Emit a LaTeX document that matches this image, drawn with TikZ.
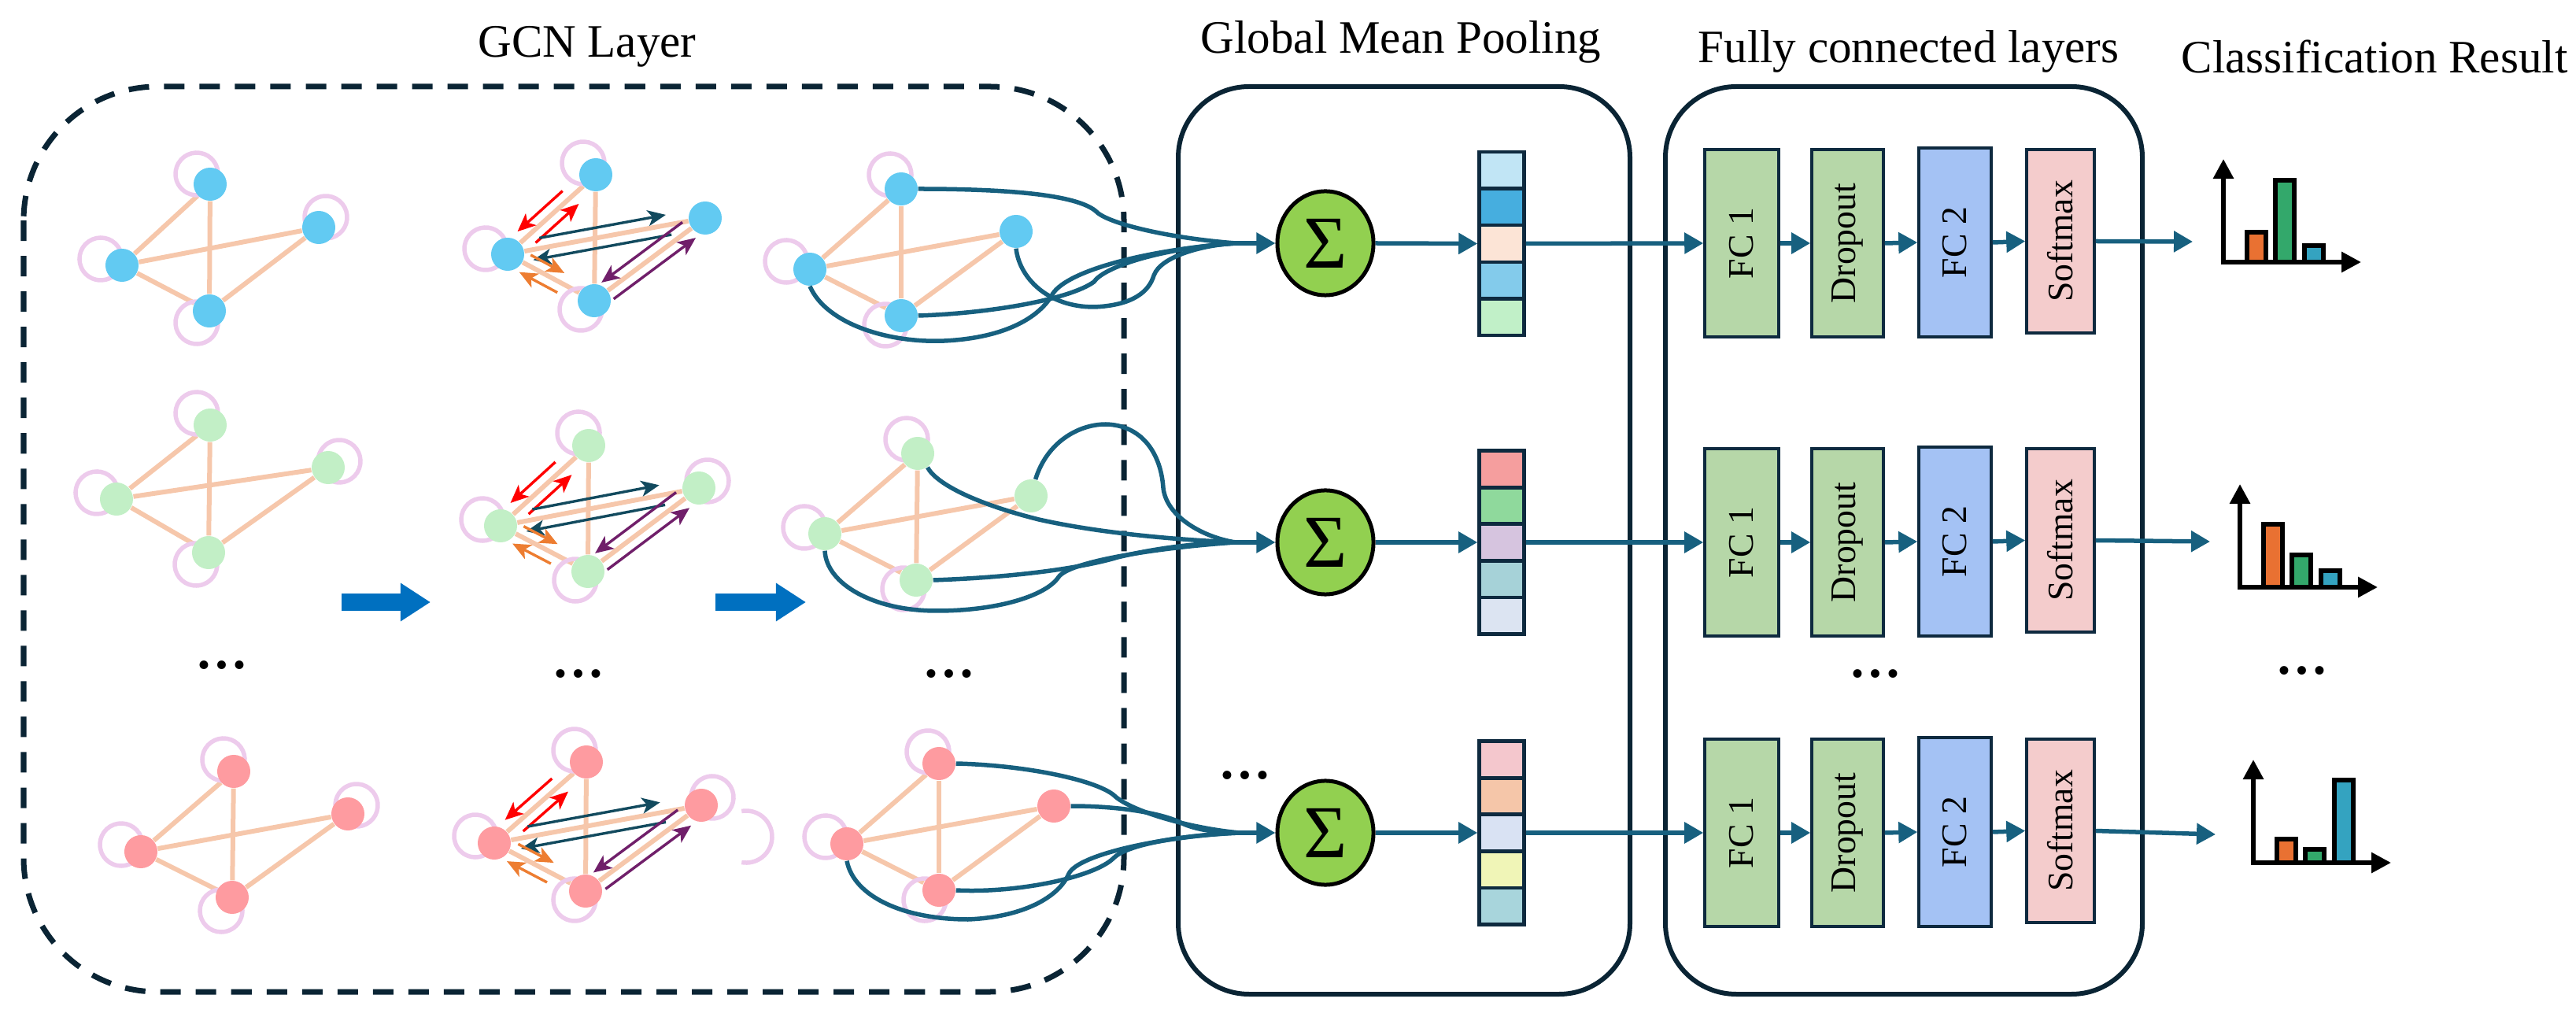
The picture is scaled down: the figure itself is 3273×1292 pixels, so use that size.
\documentclass[tikz,border=0pt]{standalone}
\usepackage{fontspec}
\setmainfont{Liberation Serif}
\usetikzlibrary{arrows.meta,calc,shapes.geometric}
\pgfdeclarelayer{bg}
\pgfsetlayers{bg,main}
\definecolor{nblue}{HTML}{62CAF2}
\definecolor{ngreen}{HTML}{C2EFC6}
\definecolor{npink}{HTML}{FE9BA0}
\definecolor{edgec}{HTML}{F6C7AB}
\definecolor{loopc}{HTML}{EDCBEC}
\definecolor{boxc}{HTML}{0A2434}
\definecolor{connc}{HTML}{17607F}
\definecolor{cellc}{HTML}{0E2A3F}
\definecolor{sumc}{HTML}{92D050}
\definecolor{mred}{HTML}{FF0000}
\definecolor{mteal}{HTML}{124A5E}
\definecolor{morange}{HTML}{ED7D31}
\definecolor{mpurple}{HTML}{701F6A}
\definecolor{bigblue}{HTML}{0070C0}
\definecolor{fcgreen}{HTML}{B6D7A8}
\definecolor{fcblue}{HTML}{A4C2F4}
\definecolor{fcpink}{HTML}{F4CCCC}
\definecolor{barorange}{HTML}{E97132}
\definecolor{bargreen}{HTML}{33A86B}
\definecolor{barblue}{HTML}{34A3C0}
\definecolor{va1}{HTML}{C1E5F5}\definecolor{va2}{HTML}{46AEDF}\definecolor{va3}{HTML}{FCE4D6}\definecolor{va4}{HTML}{83CBEB}\definecolor{va5}{HTML}{C1F0C8}
\definecolor{vb1}{HTML}{F59E9E}\definecolor{vb2}{HTML}{8FD99C}\definecolor{vb3}{HTML}{D6C4DF}\definecolor{vb4}{HTML}{A6D2D8}\definecolor{vb5}{HTML}{DCE4F2}
\definecolor{vc1}{HTML}{F4C7CD}\definecolor{vc2}{HTML}{F5C6A9}\definecolor{vc3}{HTML}{D9E2F3}\definecolor{vc4}{HTML}{F0F5B7}\definecolor{vc5}{HTML}{A8D5DC}
\tikzset{
  gnode/.style={circle,minimum size=0.42cm,inner sep=0pt,draw=none},
  gedge/.style={draw=edgec,line width=0.06cm},
  loopst/.style={draw=loopc,line width=0.055cm},
  msgst/.style={line width=0.034cm,-{Stealth[length=0.23cm,width=0.2cm,inset=0.06cm]}},
  conn/.style={draw=connc,line width=0.055cm},
  conntip/.style={conn,-{Triangle[length=0.24cm,width=0.26cm]}},
  sumnode/.style={ellipse,draw=black,line width=0.05cm,fill=sumc,minimum width=1.22cm,minimum height=1.32cm,inner sep=0pt,font=\fontsize{27}{30}\selectfont},
  cell/.style={rectangle,draw=cellc,line width=0.045cm,minimum width=0.57cm,minimum height=0.466cm,inner sep=0pt},
  fcbox/.style={rectangle,draw=cellc,line width=0.035cm,minimum width=0.92cm,minimum height=2.38cm,inner sep=0pt,font=\fontsize{13}{15}\selectfont},
  title/.style={font=\fontsize{16.8}{20}\selectfont,anchor=base,inner sep=0pt},
  dots/.style={font=\fontsize{19}{20}\selectfont\bfseries,inner sep=0pt},
  axisst/.style={draw=black,line width=0.06cm,-{Triangle[length=0.25cm,width=0.25cm]}},
  barst/.style={draw=black,line width=0.06cm},
  bigarrow/.style={draw=bigblue,line width=0.22cm,-{Triangle[length=0.38cm,width=0.46cm]}},
  bigbox/.style={draw=boxc,line width=0.06cm,rounded corners=0.9cm},
}
\newcommand{\gedges}[1]{%
  \draw[gedge] (#1T) -- (#1L);
  \draw[gedge] (#1T) -- (#1B);
  \draw[gedge] (#1L) -- (#1R);
  \draw[gedge] (#1L) -- (#1B);
  \draw[gedge] (#1R) -- (#1B);}
% self loop: open arc whose gap faces the node
\newcommand{\gloop}[3]{%
  \pgfmathsetmacro{\lpang}{atan2(-(#3),#2)}%
  \draw[loopst] ($(#1)+(#2,#3)$) ++(\lpang-140:0.27cm) arc[start angle=\lpang-140,end angle=\lpang+140,radius=0.27cm];}
\newcommand{\msg}[6]{\draw[msgst,draw=#3,fill=#3] ($(#1)!#4!(#2)!0.13cm!#6:(#2)$) -- ($(#1)!#5!(#2)!0.13cm!#6:(#2)$);}
\newcommand{\msgset}[1]{%
  \msg{#1T}{#1L}{mred}{0.30}{0.81}{-90}
  \msg{#1L}{#1T}{mred}{0.24}{0.73}{-90}
  \msg{#1L}{#1R}{mteal}{0.17}{0.81}{90}
  \msg{#1R}{#1L}{mteal}{0.18}{0.88}{90}
  \msg{#1L}{#1B}{morange}{0.21}{0.60}{90}
  \msg{#1B}{#1L}{morange}{0.37}{0.81}{90}
  \msg{#1R}{#1B}{mpurple}{0.15}{0.88}{-90}
  \msg{#1B}{#1R}{mpurple}{0.12}{0.86}{-90}}
\newcommand{\cchart}[5]{%
  \draw[axisst] (#1,#2+3) -- (#1,#2-131);
  \draw[axisst] (#1-3,#2) -- (#1+175,#2);
  \draw[barst,fill=barorange] (#1+30,#2) rectangle (#1+54,#2-#3+3);
  \draw[barst,fill=bargreen] (#1+66,#2) rectangle (#1+90,#2-#4+3);
  \draw[barst,fill=barblue] (#1+103,#2) rectangle (#1+127,#2-#5+3);}
\begin{document}
\begin{tikzpicture}[x=0.01cm,y=-0.01cm]
\useasboundingbox (0,0) rectangle (3273,1292);

% ---------- titles ----------
\node[title] (tgcn) at (746,73) {GCN Layer};
\node[title] (tgmp) at (1780,68) {Global Mean Pooling};
\node[title] (tfc) at (2425,80) {Fully connected layers};
\node[title,anchor=base west] (tcr) at (2771,93) {Classification Result};

% ---------- frames ----------
\draw[draw=boxc,line width=0.07cm,dash pattern=on 0.26cm off 0.19cm,rounded corners=1.7cm] (30,110) rectangle (1428,1260);
\draw[bigbox] (1497,110) rectangle (2071,1263);
\draw[bigbox] (2116,110) rectangle (2722,1263);

% ---------- graph nodes ----------
% row 1
\node[gnode,fill=nblue] (gaT) at (267,234) {};
\node[gnode,fill=nblue] (gaR) at (405,289) {};
\node[gnode,fill=nblue] (gaL) at (155,337) {};
\node[gnode,fill=nblue] (gaB) at (266,395) {};
\node[gnode,fill=nblue] (gbT) at (757,222) {};
\node[gnode,fill=nblue] (gbR) at (896,277) {};
\node[gnode,fill=nblue] (gbL) at (645,323) {};
\node[gnode,fill=nblue] (gbB) at (755,382) {};
\node[gnode,fill=nblue] (gcT) at (1145,240) {};
\node[gnode,fill=nblue] (gcR) at (1291,294) {};
\node[gnode,fill=nblue] (gcL) at (1029,342) {};
\node[gnode,fill=nblue] (gcB) at (1145,401) {};
% row 2
\node[gnode,fill=ngreen] (gdT) at (267,540) {};
\node[gnode,fill=ngreen] (gdR) at (417,594) {};
\node[gnode,fill=ngreen] (gdL) at (148,634) {};
\node[gnode,fill=ngreen] (gdB) at (265,702) {};
\node[gnode,fill=ngreen] (geT) at (748,566) {};
\node[gnode,fill=ngreen] (geR) at (888,620) {};
\node[gnode,fill=ngreen] (geL) at (636,668) {};
\node[gnode,fill=ngreen] (geB) at (747,726) {};
\node[gnode,fill=ngreen] (gfT) at (1166,576) {};
\node[gnode,fill=ngreen] (gfR) at (1310,630) {};
\node[gnode,fill=ngreen] (gfL) at (1048,678) {};
\node[gnode,fill=ngreen] (gfB) at (1164,737) {};
% row 3
\node[gnode,fill=npink] (ggT) at (297,980) {};
\node[gnode,fill=npink] (ggR) at (442,1034) {};
\node[gnode,fill=npink] (ggL) at (179,1082) {};
\node[gnode,fill=npink] (ggB) at (295,1140) {};
\node[gnode,fill=npink] (ghT) at (745,968) {};
\node[gnode,fill=npink] (ghR) at (891,1023) {};
\node[gnode,fill=npink] (ghL) at (628,1071) {};
\node[gnode,fill=npink] (ghB) at (744,1132) {};
\node[gnode,fill=npink] (giT) at (1193,970) {};
\node[gnode,fill=npink] (giR) at (1339,1024) {};
\node[gnode,fill=npink] (giL) at (1076,1072) {};
\node[gnode,fill=npink] (giB) at (1193,1131) {};

\begin{pgfonlayer}{bg}
  \gedges{ga}\gedges{gb}\gedges{gc}
  \gedges{gd}\gedges{ge}\gedges{gf}
  \gedges{gg}\gedges{gh}\gedges{gi}
  % self loops
  \gloop{gaT}{-17}{-13}\gloop{gaL}{-27}{-8}\gloop{gaR}{9}{-13}\gloop{gaB}{-16}{15}
  \gloop{gbT}{-16}{-15}\gloop{gbL}{-28}{-7}\gloop{gbB}{-17}{11}
  \gloop{gcT}{-14}{-18}\gloop{gcL}{-30}{-10}\gloop{gcB}{-20}{12}
  \gloop{gdT}{-17}{-15}\gloop{gdL}{-25}{-8}\gloop{gdR}{14}{-8}\gloop{gdB}{-16}{15}
  \gloop{geT}{-13}{-16}\gloop{geL}{-23}{-8}\gloop{geR}{11}{-9}\gloop{geB}{-16}{11}
  \gloop{gfT}{-14}{-18}\gloop{gfL}{-26}{-8}\gloop{gfB}{-16}{11}
  \gloop{ggT}{-13}{-15}\gloop{ggL}{-25}{-9}\gloop{ggR}{11}{-11}\gloop{ggB}{-14}{17}
  \gloop{ghT}{-15}{-15}\gloop{ghL}{-24}{-9}\gloop{ghR}{14}{-10}\gloop{ghB}{-14}{11}
  \gloop{giT}{-14}{-15}\gloop{giL}{-27}{-9}\gloop{giB}{-18}{12}
  \coordinate (stray) at (948,1063);
  \draw[loopst] (stray) ++(-100:0.33cm) arc[start angle=-100,end angle=100,radius=0.33cm];
\end{pgfonlayer}

% message passing arrows
\msgset{gb}\msgset{ge}\msgset{gh}

% big arrows between columns
\coordinate (ba1s) at (434,765); \coordinate (ba1e) at (547,765);
\coordinate (ba2s) at (909,765); \coordinate (ba2e) at (1024,765);
\draw[bigarrow] (ba1s) -- (ba1e);
\draw[bigarrow] (ba2s) -- (ba2e);

% dots
\node[dots] (d1) at (282,845) {…};
\node[dots] (d2) at (735,856) {…};
\node[dots] (d3) at (1206,856) {…};
\node[dots] (d4) at (1582,985) {…};
\node[dots] (d5) at (2383,856) {…};
\node[dots] (d6) at (2925,852) {…};

% ---------- pooling ----------
\node[sumnode] (s1) at (1684,309) {Σ};
\node[sumnode] (s2) at (1684,689) {Σ};
\node[sumnode] (s3) at (1684,1058) {Σ};

\node[cell,fill=va1] (v1a) at (1908,216.3) {};
\node[cell,fill=va2] (v1b) at (1908,262.9) {};
\node[cell,fill=va3] (v1c) at (1908,309.5) {};
\node[cell,fill=va4] (v1d) at (1908,356.1) {};
\node[cell,fill=va5] (v1e) at (1908,402.7) {};
\node[cell,fill=vb1] (v2a) at (1908,596) {};
\node[cell,fill=vb2] (v2b) at (1908,642.6) {};
\node[cell,fill=vb3] (v2c) at (1908,689) {};
\node[cell,fill=vb4] (v2d) at (1908,735.6) {};
\node[cell,fill=vb5] (v2e) at (1908,782.2) {};
\node[cell,fill=vc1] (v3a) at (1908,965) {};
\node[cell,fill=vc2] (v3b) at (1908,1011.6) {};
\node[cell,fill=vc3] (v3c) at (1908,1058) {};
\node[cell,fill=vc4] (v3d) at (1908,1104.6) {};
\node[cell,fill=vc5] (v3e) at (1908,1151.2) {};

% ---------- readout curves ----------
\coordinate (j1) at (1570,309);
\coordinate (j2) at (1570,689);
\coordinate (j3) at (1575,1058);
\draw[conn] (gcT.east) .. controls (1300,240) and (1370,250) .. (1392,268) .. controls (1405,283) and (1480,302) .. (j1);
\draw[conn] (gcR.south) .. controls (1295,352) and (1330,390) .. (1390,390) .. controls (1440,388) and (1460,370) .. (1466,350) .. controls (1475,325) and (1530,311) .. (j1);
\draw[conn] (gcB.east) .. controls (1260,398) and (1360,380) .. (1390,358) .. controls (1402,340) and (1470,316) .. (j1);
\draw[conn] (gcL.south) .. controls (1050,412) and (1130,436) .. (1200,433) .. controls (1280,429) and (1320,402) .. (1336,376) .. controls (1350,346) and (1450,318) .. (j1);
\draw[conntip] (j1) -- (s1.west);

\draw[conn] (gfT.-55) .. controls (1190,615) and (1240,640) .. (1320,660) .. controls (1400,678) and (1500,686) .. (j2);
\draw[conn] (gfR.75) .. controls (1330,562) and (1370,539) .. (1405,539) .. controls (1450,540) and (1475,575) .. (1478,620) .. controls (1482,657) and (1530,683) .. (j2);
\draw[conn] (gfB.east) .. controls (1300,733) and (1380,720) .. (1420,708) .. controls (1470,696) and (1520,690) .. (j2);
\draw[conn] (gfL.south) .. controls (1050,742) and (1110,776) .. (1190,776) .. controls (1270,776) and (1330,756) .. (1345,733) .. controls (1360,712) and (1480,695) .. (j2);
\draw[conntip] (j2) -- (s2.west);

\draw[conn] (giT.east) .. controls (1300,972) and (1390,990) .. (1415,1010) .. controls (1435,1030) and (1510,1052) .. (j3);
\draw[conn] (giR.east) .. controls (1430,1024) and (1480,1035) .. (1500,1045) .. controls (1520,1055) and (1550,1058) .. (j3);
\draw[conn] (giB.east) .. controls (1290,1135) and (1390,1115) .. (1415,1090) .. controls (1435,1070) and (1520,1060) .. (j3);
\draw[conn] (giL.south) .. controls (1085,1140) and (1150,1168) .. (1230,1168) .. controls (1300,1165) and (1345,1140) .. (1358,1110) .. controls (1370,1085) and (1480,1062) .. (j3);
\draw[conntip] (j3) -- (s3.west);

\draw[conntip] (s1.east) -- (v1c.west);
\draw[conntip] (s2.east) -- (v2c.west);
\draw[conntip] (s3.east) -- (v3c.west);

% ---------- fully connected ----------
\foreach \r/\y in {1/309,2/689,3/1058}{
  \node[fcbox,fill=fcgreen,minimum width=0.94cm] (f\r a) at (2213,\y) {\rotatebox{90}{FC 1}};
  \node[fcbox,fill=fcgreen,minimum width=0.91cm] (f\r b) at (2347.5,\y) {\rotatebox{90}{Dropout}};
  \node[fcbox,fill=fcblue,minimum width=0.92cm,minimum height=2.40cm] (f\r c) at (2484,\y-1) {\rotatebox{90}{FC 2}};
  \node[fcbox,fill=fcpink,minimum width=0.86cm,minimum height=2.33cm] (f\r d) at (2618,\y-2.5) {\rotatebox{90}{Softmax}};
  \draw[conntip] (v\r c.east) -- (f\r a.west);
  \draw[conntip] (f\r a.east) -- (f\r b.west);
  \draw[conntip] (f\r b.east) -- (f\r c.west);
  \draw[conntip] (f\r c.east) -- (f\r d.west);
}
\coordinate (c1in) at (2786,307);
\coordinate (c2in) at (2808,688);
\coordinate (c3in) at (2815,1060);
\draw[conntip] (f1d.east) -- (c1in);
\draw[conntip] (f2d.east) -- (c2in);
\draw[conntip] (f3d.east) -- (c3in);

% ---------- charts ----------
\cchart{2825}{333}{41}{107}{24}
\cchart{2846}{746}{83}{44}{24}
\cchart{2863}{1096}{33}{20}{108}

\end{tikzpicture}
\end{document}
